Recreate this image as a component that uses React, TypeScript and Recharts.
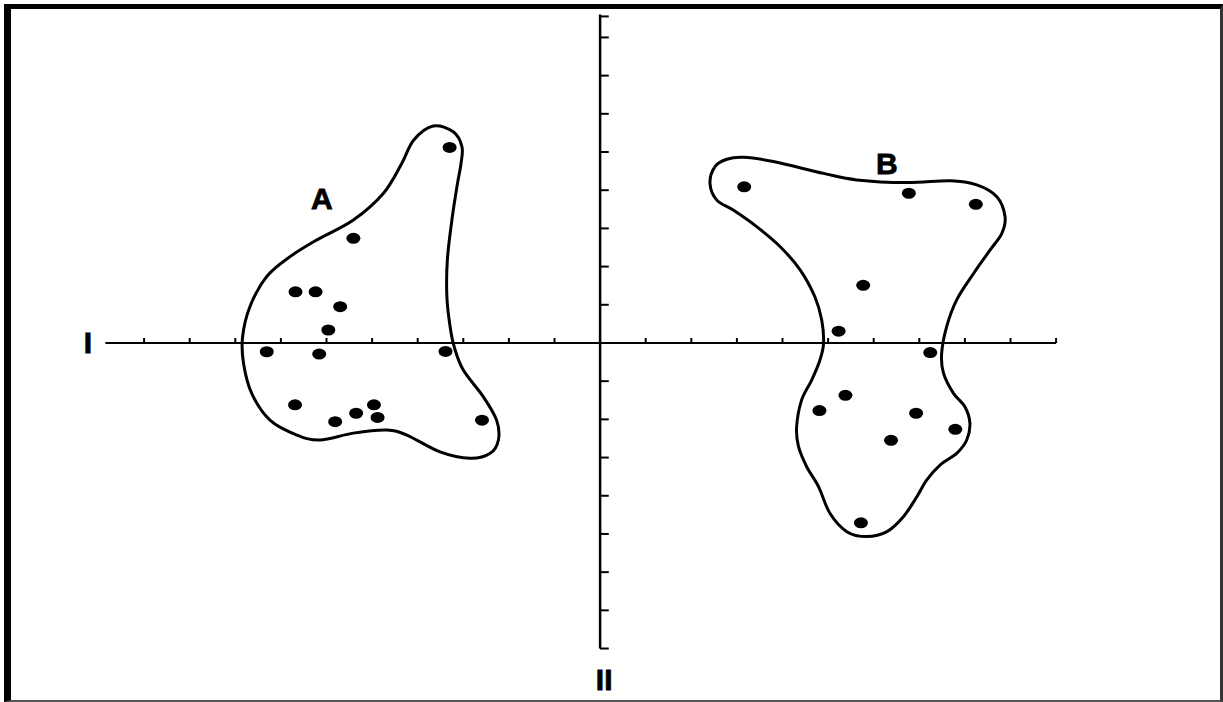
import React from "react";
import { ComposedChart, XAxis, YAxis, Scatter, Line, ReferenceLine } from "recharts";

const WIDTH = 1223;
const HEIGHT = 702;

// data units: one tick step = 1 on each axis
const X_DOMAIN: [number, number] = [-13.16, 13.66];
const Y_DOMAIN: [number, number] = [-9.4, 8.98];

const AXIS_I_RANGE = [-10.85, 10];
const AXIS_II_RANGE = [-8, 8.6];

const X_TICKS = [-10, -9, -8, -7, -6, -5, -4, -3, -2, -1, 1, 2, 3, 4, 5, 6, 7, 8, 9, 10];
const Y_TICKS = [-8, -7, -6, -5, -4, -3, -2, -1, 1, 2, 3, 4, 5, 6, 7, 8, 8.55];

const pointsA = [
  { x: -3.3, y: 5.12 },
  { x: -5.41, y: 2.74 },
  { x: -6.68, y: 1.34 },
  { x: -6.24, y: 1.34 },
  { x: -5.7, y: 0.95 },
  { x: -5.96, y: 0.34 },
  { x: -7.31, y: -0.23 },
  { x: -6.16, y: -0.29 },
  { x: -3.39, y: -0.22 },
  { x: -6.69, y: -1.62 },
  { x: -5.81, y: -2.06 },
  { x: -5.35, y: -1.84 },
  { x: -4.96, y: -1.62 },
  { x: -4.88, y: -1.95 },
  { x: -2.59, y: -2.02 },
];

const pointsB = [
  { x: 3.16, y: 4.09 },
  { x: 6.77, y: 3.92 },
  { x: 8.24, y: 3.63 },
  { x: 5.77, y: 1.51 },
  { x: 5.23, y: 0.31 },
  { x: 7.24, y: -0.25 },
  { x: 5.38, y: -1.37 },
  { x: 4.81, y: -1.77 },
  { x: 6.93, y: -1.84 },
  { x: 7.79, y: -2.26 },
  { x: 6.38, y: -2.55 },
  { x: 5.72, y: -4.71 },
];

const outlineA = [
  { x: -3.66, y: 5.68 }, { x: -3.22, y: 5.53 }, { x: -3.03, y: 5.14 }, { x: -3.05, y: 4.7 },
  { x: -3.14, y: 4.09 }, { x: -3.25, y: 3.22 }, { x: -3.35, y: 2.17 }, { x: -3.36, y: 1.21 },
  { x: -3.29, y: 0.43 }, { x: -3.2, y: -0.1 }, { x: -3.0, y: -0.71 }, { x: -2.56, y: -1.41 },
  { x: -2.27, y: -2.02 }, { x: -2.23, y: -2.54 }, { x: -2.41, y: -2.89 }, { x: -2.85, y: -3.02 },
  { x: -3.51, y: -2.85 }, { x: -4.24, y: -2.41 }, { x: -4.68, y: -2.28 }, { x: -5.41, y: -2.36 },
  { x: -6.14, y: -2.54 }, { x: -6.65, y: -2.41 }, { x: -7.24, y: -2.02 }, { x: -7.64, y: -1.32 },
  { x: -7.82, y: -0.53 }, { x: -7.84, y: 0.16 }, { x: -7.68, y: 0.95 }, { x: -7.31, y: 1.74 },
  { x: -6.8, y: 2.26 }, { x: -6.21, y: 2.7 }, { x: -5.41, y: 3.22 }, { x: -4.75, y: 3.92 },
  { x: -4.35, y: 4.7 }, { x: -4.09, y: 5.31 },
];

const outlineB = [
  { x: 2.41, y: 4.18 }, { x: 2.52, y: 4.62 }, { x: 2.78, y: 4.81 }, { x: 3.14, y: 4.86 },
  { x: 3.8, y: 4.75 }, { x: 4.9, y: 4.44 }, { x: 5.63, y: 4.27 }, { x: 6.73, y: 4.2 },
  { x: 7.68, y: 4.25 }, { x: 8.26, y: 4.14 }, { x: 8.7, y: 3.83 }, { x: 8.88, y: 3.31 },
  { x: 8.81, y: 2.87 }, { x: 8.55, y: 2.43 }, { x: 8.19, y: 1.82 }, { x: 7.82, y: 1.13 },
  { x: 7.6, y: 0.43 }, { x: 7.49, y: -0.27 }, { x: 7.53, y: -0.79 }, { x: 7.75, y: -1.32 },
  { x: 8.0, y: -1.67 }, { x: 8.11, y: -2.1 }, { x: 8.04, y: -2.54 }, { x: 7.82, y: -2.89 },
  { x: 7.46, y: -3.19 }, { x: 7.16, y: -3.59 }, { x: 6.95, y: -4.02 }, { x: 6.65, y: -4.55 },
  { x: 6.29, y: -4.94 }, { x: 5.85, y: -5.07 }, { x: 5.41, y: -4.94 }, { x: 5.04, y: -4.46 },
  { x: 4.79, y: -3.76 }, { x: 4.53, y: -3.24 }, { x: 4.35, y: -2.71 }, { x: 4.31, y: -2.19 },
  { x: 4.42, y: -1.49 }, { x: 4.64, y: -0.97 }, { x: 4.82, y: -0.45 }, { x: 4.9, y: -0.01 },
  { x: 4.86, y: 0.6 }, { x: 4.71, y: 1.21 }, { x: 4.39, y: 1.91 }, { x: 3.95, y: 2.52 },
  { x: 3.44, y: 3.04 }, { x: 2.92, y: 3.48 }, { x: 2.56, y: 3.74 },
];

const labels = [
  { x: -6.1, y: 3.77, text: "A" },
  { x: 6.29, y: 4.71, text: "B" },
  { x: -11.23, y: 0, text: "I" },
  { x: 0.09, y: -8.8, text: "II" },
];

// closed Catmull-Rom curve, so the outline passes through every traced point
function closedSmooth(context: any) {
  let pts: number[][] = [];
  return {
    areaStart() {},
    areaEnd() {},
    lineStart() {
      pts = [];
    },
    point(x: number, y: number) {
      pts.push([+x, +y]);
    },
    lineEnd() {
      const n = pts.length;
      if (n < 3) return;
      context.moveTo(pts[0][0], pts[0][1]);
      for (let i = 0; i < n; i++) {
        const p0 = pts[(i + n - 1) % n];
        const p1 = pts[i];
        const p2 = pts[(i + 1) % n];
        const p3 = pts[(i + 2) % n];
        context.bezierCurveTo(
          p1[0] + (p2[0] - p0[0]) / 6,
          p1[1] + (p2[1] - p0[1]) / 6,
          p2[0] - (p3[0] - p1[0]) / 6,
          p2[1] - (p3[1] - p1[1]) / 6,
          p2[0],
          p2[1]
        );
      }
      context.closePath();
    },
  };
}

const Dot = (p: any) => <ellipse cx={p.cx} cy={p.cy} rx={7} ry={5.5} fill="#000" />;

const LabelText = (p: any) => (
  <text
    x={p.cx}
    y={p.cy + 10.5}
    textAnchor="middle"
    fontFamily="'Liberation Sans', Arial, sans-serif"
    fontWeight="bold"
    fontSize={30}
    fill="#000"
    stroke="#000"
    strokeWidth={0.8}
  >
    {p.payload.text}
  </text>
);

export default function App() {
  return (
    <div style={{ position: "absolute", left: 0, top: 0, width: WIDTH, height: HEIGHT, background: "#fff" }}>
      <div
        style={{
          position: "absolute",
          left: 4,
          top: 4,
          width: WIDTH - 4,
          height: HEIGHT - 4,
          boxSizing: "border-box",
          borderLeft: "7px solid #000",
          borderTop: "5px solid #000",
          borderRight: "3px solid #333",
          borderBottom: "2px solid #555",
        }}
      />
      <div style={{ position: "absolute", left: 0, top: 0 }}>
        <ComposedChart width={WIDTH} height={HEIGHT} margin={{ top: 0, right: 0, bottom: 0, left: 0 }}>
          <XAxis type="number" dataKey="x" domain={X_DOMAIN} allowDataOverflow hide />
          <YAxis type="number" dataKey="y" domain={Y_DOMAIN} allowDataOverflow hide />

          <ReferenceLine
            segment={[{ x: AXIS_I_RANGE[0], y: 0 }, { x: AXIS_I_RANGE[1], y: 0 }]}
            stroke="#000"
            strokeWidth={2}
          />
          <ReferenceLine
            segment={[{ x: 0, y: AXIS_II_RANGE[0] }, { x: 0, y: AXIS_II_RANGE[1] }]}
            stroke="#000"
            strokeWidth={2.5}
          />
          {X_TICKS.map((t) => (
            <ReferenceLine
              key={`xt-${t}`}
              segment={[{ x: t, y: 0 }, { x: t, y: 0.13 }]}
              stroke="#000"
              strokeWidth={2}
            />
          ))}
          {Y_TICKS.map((t) => (
            <ReferenceLine
              key={`yt-${t}`}
              segment={[{ x: 0, y: t }, { x: 0.19, y: t }]}
              stroke="#000"
              strokeWidth={2}
            />
          ))}

          <Line
            data={outlineA}
            dataKey="y"
            type={closedSmooth as any}
            stroke="#000"
            strokeWidth={3}
            dot={false}
            activeDot={false}
            isAnimationActive={false}
          />
          <Line
            data={outlineB}
            dataKey="y"
            type={closedSmooth as any}
            stroke="#000"
            strokeWidth={3}
            dot={false}
            activeDot={false}
            isAnimationActive={false}
          />

          <Scatter data={pointsA} shape={Dot} isAnimationActive={false} />
          <Scatter data={pointsB} shape={Dot} isAnimationActive={false} />
          <Scatter data={labels} shape={LabelText} isAnimationActive={false} />
        </ComposedChart>
      </div>
    </div>
  );
}
